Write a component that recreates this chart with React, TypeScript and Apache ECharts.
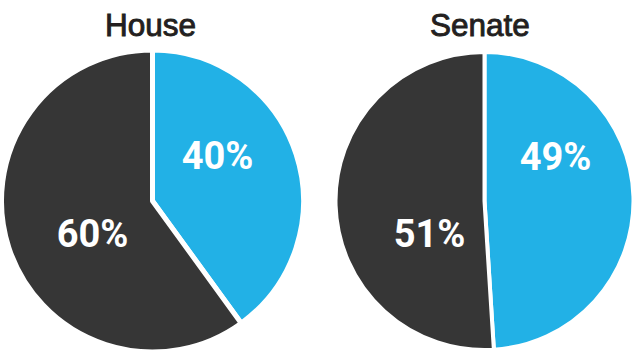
import React, { useEffect, useRef } from "react";
import * as echarts from "echarts";

const chambers = ["House", "Senate"];
const sliceNames = ["Blue", "Dark"];
const houseValues = [40, 60];
const senateValues = [49, 51];
const sliceColors = ["#22b1e6", "#363636"];

// label placement offsets relative to pie centre (layout, not data)
const labelOffsets = [
  [[65, -45], [-60, 33]],
  [[71, -44], [-55, 33]],
];
const centers = [[152.5, 201], [484.5, 201]];
const radii = [151, 149];
const gaps = [5, 4];

export default function App() {
  const ref = useRef<HTMLDivElement>(null);
  useEffect(() => {
    const chart = echarts.init(ref.current!, null, { renderer: "svg" });
    const valuesList = [houseValues, senateValues];
    chart.setOption({
      animation: false,
      backgroundColor: "#ffffff",
      title: chambers.map((c, i) => ({
        text: c,
        left: i === 0 ? 100 : 425,
        top: 4,
        textStyle: {
          fontFamily: "Liberation Sans",
          fontSize: 31.5,
          fontWeight: "normal",
          color: "#231f20",
          textBorderColor: "#231f20",
          textBorderWidth: 0.9,
        },
      })),
      series: valuesList.map((vals, si) => ({
        type: "pie",
        center: centers[si],
        radius: radii[si],
        startAngle: 90,
        clockwise: true,
        silent: true,
        itemStyle: {
          borderColor: "#ffffff",
          borderWidth: gaps[si],
        },
        label: {
          show: true,
          position: "inside",
          formatter: "{c}%",
          color: "#ffffff",
          fontFamily: "Roboto",
          fontWeight: "bold",
          fontSize: 38,
        },
        labelLine: { show: false },
        labelLayout: (params: any) => {
          const off = labelOffsets[si][params.dataIndex];
          return {
            x: centers[si][0] + off[0],
            y: centers[si][1] + off[1],
            align: "center",
            verticalAlign: "middle",
          };
        },
        data: vals.map((v, i) => ({
          name: sliceNames[i],
          value: v,
          itemStyle: { color: sliceColors[i] },
        })),
      })),
    });
    return () => chart.dispose();
  }, []);
  return (
    <div
      ref={ref}
      style={{ position: "fixed", left: 0, top: 0, width: 632, height: 350 }}
    />
  );
}
